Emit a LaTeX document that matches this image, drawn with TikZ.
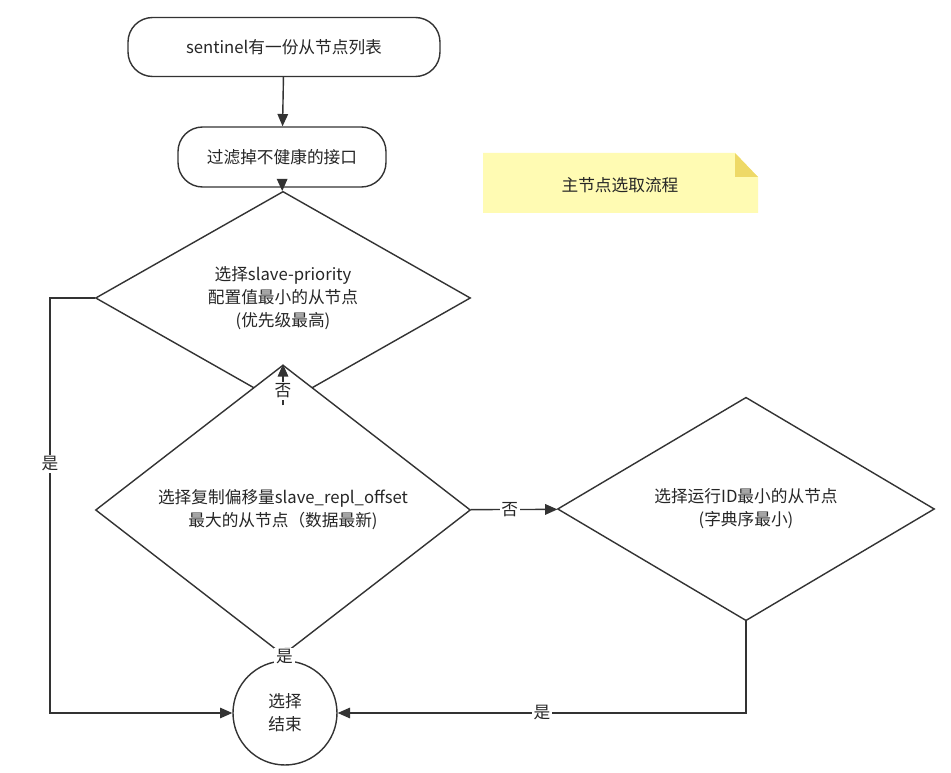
\documentclass[tikz,border=0pt]{standalone}
\usepackage{fontspec}
\setmainfont{Noto Sans CJK SC}
\usetikzlibrary{shapes.geometric,arrows.meta}
\tikzset{
  box/.style={draw=black!80, thick, rounded corners=14pt, fill=white, align=center},
  choice/.style={draw=black!80, thick, diamond, fill=white, align=center, inner sep=0pt},
  flow/.style={draw=black!80, thick, -{Triangle[length=7pt,width=6pt]}},
  lbl/.style={fill=white, inner sep=1pt}
}
\begin{document}
\begin{tikzpicture}[x=0.02cm, y=-0.02cm, font=\fontsize{9.5}{13}\selectfont, text=black!85]
    \useasboundingbox (0,0) rectangle (951,773);
    % Note
    \fill[yellow!25!orange!10!white, fill=yellow!30] (483,153) -- (735,153) -- (758,177) -- (758,213) -- (483,213) -- cycle;
    \fill[yellow!60!brown!70] (735,153) -- (758,177) -- (735,177) -- cycle;
    \node (note) at (620,185) {主节点选取流程};
    
    % Steps
    \node[box, minimum width=312*0.02cm, minimum height=59*0.02cm] (list) at (284,47) {sentinel有一份从节点列表};
    \node[box, minimum width=208*0.02cm, minimum height=60*0.02cm] (filter) at (282,157) {过滤掉不健康的接口};
    \node[choice, minimum width=375*0.02cm, minimum height=120*0.02cm] (prio) at (283,298) {选择slave-priority\\配置值最小的从节点\\(优先级最高)};
    \node[choice, minimum width=375*0.02cm, minimum height=150*0.02cm] (offset) at (283,510) {选择复制偏移量slave\_repl\_offset\\最大的从节点（数据最新)};
    \node[choice, minimum width=377*0.02cm, minimum height=152*0.02cm] (runid) at (746,509) {选择运行ID最小的从节点\\(字典序最小)};
    \node[draw=black!80, thick, circle, minimum size=104*0.02cm, align=center, fill=white] (done) at (285,713) {选择\\结束};
    
    % Connectors
    \draw[flow] (list) -- (filter);
    \draw[flow] (filter) -- (prio);
    \draw[flow] (prio) -- node[lbl, pos=0.35] {否} (offset);
    \draw[flow] (offset) -- node[lbl, pos=0.35] {是} (done);
    \draw[flow] (offset) -- node[lbl, pos=0.45] {否} (runid);
    \coordinate (lefttop) at (50,298);
    \coordinate (leftbot) at (50,713);
    \coordinate (rightbot) at (746,713);
    \draw[flow] (prio.west) -- (lefttop) -- node[lbl, pos=0.4] {是} (leftbot) -- (done.west);
    \draw[flow] (runid.south) -- (rightbot) -- node[lbl, pos=0.5] {是} (done.east);
\end{tikzpicture}
\end{document}
